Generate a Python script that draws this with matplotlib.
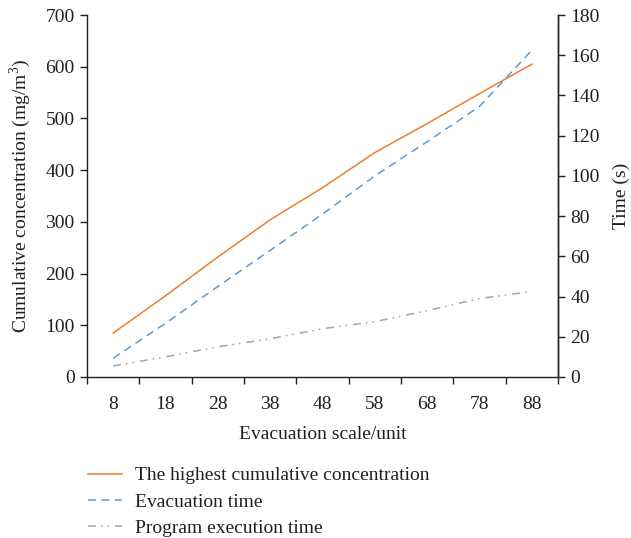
import matplotlib.pyplot as plt
from matplotlib.lines import Line2D

plt.rcParams['font.family'] = ['Liberation Serif', 'DejaVu Serif']
plt.rcParams['mathtext.fontset'] = 'custom'
plt.rcParams['mathtext.rm'] = 'Liberation Serif'

scale = ['8', '18', '28', '38', '48', '58', '68', '78', '88']
concentration = [85, 157, 232, 304, 366, 434, 490, 548, 605]   # mg/m3
evac_time = [9.3, 26.7, 45, 63, 81, 100, 117, 134.5, 162.5]     # s
exec_time = [5.5, 10, 15, 19, 24, 27.5, 33, 39, 42.5]           # s

orange = '#ED7D31'
blue = '#5B9BD5'
gray = '#A5A5A5'
ink = '#231F20'
fs = 14

fig = plt.figure(figsize=(6.31, 5.38), dpi=100)
ax = fig.add_axes([0.1379, 0.2993, 0.7464, 0.6728])
ax2 = ax.twinx()

x = list(range(len(scale)))
dash = (0, (5.2, 3.6))
dashdotdot = (0, (5.2, 3.3, 1, 3.3, 1, 3.9))
ax.plot(x, concentration, color=orange, lw=1.1)
ax2.plot(x, evac_time, color=blue, lw=1.1, linestyle=dash)
ax2.plot(x, exec_time, color=gray, lw=1.1, linestyle=dashdotdot)

ax.set_xlim(-0.5, len(scale) - 0.5)
ax.set_ylim(0, 700)
ax2.set_ylim(0, 180)
ax.set_yticks(range(0, 701, 100))
ax2.set_yticks(range(0, 181, 20))

# category labels in the middle, tick marks on the boundaries
ax.set_xticks(x)
ax.set_xticklabels(scale)
ax.set_xticks([i - 0.5 for i in range(len(scale) + 1)], minor=True)
ax.tick_params(axis='x', which='major', length=0, pad=14)
ax.tick_params(axis='x', which='minor', length=5, width=1, color=ink)

for a in (ax, ax2):
    a.spines['top'].set_visible(False)
    for s in ('left', 'right', 'bottom'):
        a.spines[s].set_color(ink)
        a.spines[s].set_linewidth(1)
    a.tick_params(axis='y', length=5, width=1, color=ink,
                  labelsize=fs, labelcolor=ink, pad=4)
ax.tick_params(axis='x', labelsize=fs, labelcolor=ink)
ax2.spines['left'].set_visible(False)
ax2.spines['bottom'].set_visible(False)

ax.set_xlabel('Evacuation scale/unit', fontsize=fs, color=ink, labelpad=9)
ax.set_ylabel(r'Cumulative concentration (mg/m$^{\mathrm{3}}$)',
              fontsize=fs, color=ink, labelpad=9)
ax2.set_ylabel('Time (s)', fontsize=fs, color=ink, labelpad=9)

handles = [
    Line2D([], [], color=orange, lw=1.1),
    Line2D([], [], color=blue, lw=1.1, linestyle=dash),
    Line2D([], [], color=gray, lw=1.1, linestyle=dashdotdot),
]
labels = ['The highest cumulative concentration', 'Evacuation time',
          'Program execution time']
fig.legend(handles, labels, loc='upper left', bbox_to_anchor=(0.139, 0.1324),
           frameon=False, fontsize=fs, handlelength=1.75, handletextpad=0.7,
           labelspacing=0.45, labelcolor=ink, borderaxespad=0, borderpad=0)

fig.savefig('out.png', dpi=100)
